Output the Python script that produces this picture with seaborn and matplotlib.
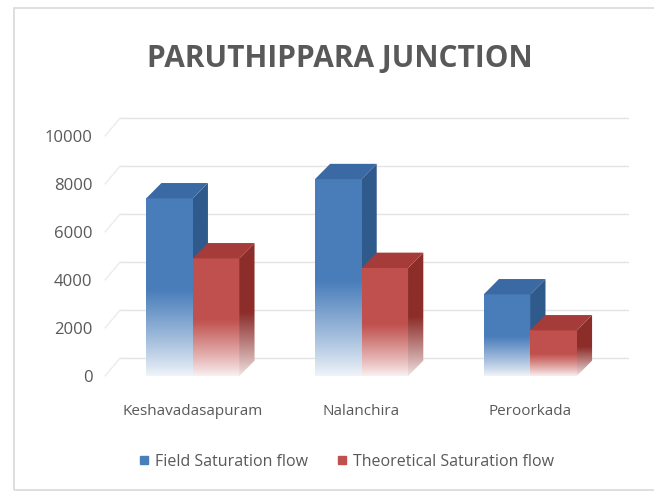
import numpy as np
import pandas as pd
import seaborn as sns
import matplotlib.pyplot as plt
from matplotlib.colors import to_rgb
from matplotlib.patches import Polygon, Rectangle
from matplotlib.lines import Line2D

# data
junctions = ["Keshavadasapuram", "Nalanchira", "Peroorkada"]
field_flow = [7400, 8200, 3400]
theoretical_flow = [4900, 4500, 1900]
series_names = ["Field Saturation flow", "Theoretical Saturation flow"]
yticks = [0, 2000, 4000, 6000, 8000, 10000]

df = pd.DataFrame({
    "junction": junctions * 2,
    "flow": field_flow + theoretical_flow,
    "series": [series_names[0]] * 3 + [series_names[1]] * 3,
})

blue = (0.290, 0.494, 0.733)
red = (0.753, 0.314, 0.302)
shades = {
    blue: ("#2f5a8c", "#3b69a3"),
    red: ("#8c2d2a", "#a53c39"),
}
txt = "#595959"

sns.set_style("white")
plt.rcParams['font.family'] = ['Open Sans', 'DejaVu Sans']

fig = plt.figure(figsize=(6.54, 4.95), dpi=100)
ax = fig.add_axes([105 / 654, 119 / 495, 508 / 654, 240 / 495])
sns.barplot(data=df, x="junction", y="flow", hue="series", palette=[blue, red],
            width=0.552, saturation=1, legend=False, errorbar=None, ax=ax)

xl, xr = -0.52, 2.49
dx, dy = 0.09, 640      # depth of the 3d boxes
gdy = 750               # back wall offset of gridlines


def gradient(base, n=200, fade=0.48, low=0.08):
    t = np.linspace(0, 1, n)[:, None]
    a = low + (1 - low) * np.clip(t / fade, 0, 1) ** 0.9
    return 1 - a[..., None] * (1 - np.array(base))


bars = sorted(ax.patches, key=lambda p: p.get_x())
for i, p in enumerate(bars):
    x0, w, h = p.get_x(), p.get_width(), p.get_height()
    base = p.get_facecolor()[:3]
    key = min(shades, key=lambda k: sum((a - b) ** 2 for a, b in zip(k, base)))
    side_c, top_c = shades[key]
    z = 3 + 3 * i
    p.set_facecolor('none')
    p.set_edgecolor('none')
    im = ax.imshow(gradient(key), extent=(x0, x0 + w, 0, h), origin='lower',
                   aspect='auto', zorder=z, interpolation='bicubic')
    im.set_clip_path(p)
    side = Polygon([(x0 + w, 0), (x0 + w + dx, dy), (x0 + w + dx, h + dy), (x0 + w, h)],
                   closed=True, fc='none', ec='none', transform=ax.transData)
    ax.add_patch(side)
    im2 = ax.imshow(gradient(to_rgb(side_c), low=0.12), extent=(x0 + w, x0 + w + dx, 0, h + dy),
                    origin='lower', aspect='auto', zorder=z + 1, interpolation='bicubic')
    im2.set_clip_path(side)
    top = Polygon([(x0, h), (x0 + dx, h + dy), (x0 + w + dx, h + dy), (x0 + w, h)],
                  closed=True, fc=top_c, ec='none', zorder=z + 2)
    ax.add_patch(top)

# back wall gridlines
for v in yticks:
    ax.plot([xl + dx, xr + dx], [v + gdy, v + gdy], color="#e4e4e4", lw=1,
            zorder=0, clip_on=False)
    ax.plot([xl, xl + dx], [v, v + gdy], color="#ececec", lw=1, zorder=0, clip_on=False)

ax.set_xlim(xl, xr)
ax.set_ylim(0, 10000)
ax.set_yticks(yticks)
ax.set_xlabel("")
ax.set_ylabel("")
ax.grid(False)
sns.despine(ax=ax, left=True, bottom=True)
ax.tick_params(axis='y', length=0, pad=9, labelsize=12, labelcolor=txt)
ax.tick_params(axis='x', length=0, pad=20, labelsize=11, labelcolor=txt)

fig.text(340 / 654, 1 - 59 / 495, "PARUTHIPPARA JUNCTION", ha='center', va='center',
         fontsize=21.5, fontweight='bold', color=txt)

handles = [Line2D([], [], marker='s', ls='', color=c, markersize=6) for c in (blue, red)]
fig.legend(handles, series_names, loc='center', bbox_to_anchor=(345 / 654, 1 - 462 / 495),
           ncol=2, frameon=False, fontsize=11.5, labelcolor=txt, handletextpad=0.2,
           columnspacing=1.6, handlelength=1)

fig.add_artist(Rectangle((14 / 654, 1 - 490 / 495), 1, 482 / 495, transform=fig.transFigure,
                         fill=False, ec="#d9d9d9", lw=1.2))

fig.savefig("out.png", dpi=100)
